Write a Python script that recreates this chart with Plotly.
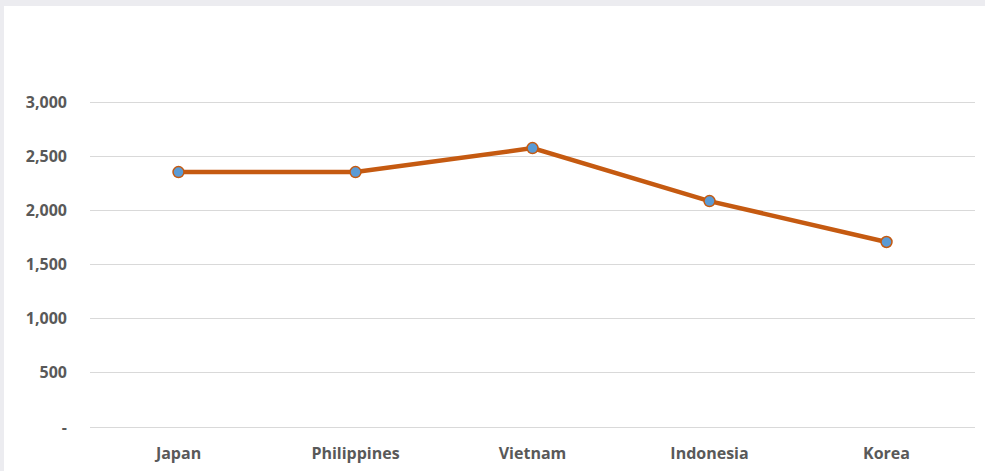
import plotly.graph_objects as go

countries = ["Japan", "Philippines", "Vietnam", "Indonesia", "Korea"]
values = [2354, 2354, 2575, 2086, 1708]
y_tickvals = [0, 500, 1000, 1500, 2000, 2500, 3000]
y_ticktext = ["-", "500", "1,000", "1,500", "2,000", "2,500", "3,000"]

fig = go.Figure()
fig.add_trace(go.Scatter(
    x=countries, y=values, mode="lines+markers",
    line=dict(color="#C55A11", width=4.5),
    marker=dict(size=11, color="#5B9BD5", line=dict(color="#C55A11", width=1.5)),
    showlegend=False, hoverinfo="skip",
))

tf = dict(family="Open Sans", size=16, color="#595959", weight="bold")
fig.update_layout(
    width=985, height=471,
    margin=dict(l=90, r=10, t=101, b=44, autoexpand=False),
    paper_bgcolor="white", plot_bgcolor="white",
    font=dict(family="Open Sans", size=16, color="#595959"),
    xaxis=dict(
        range=[-0.5, len(countries) - 0.5], automargin=False,
        showgrid=False, showline=True, linecolor="#D9D9D9", linewidth=1,
        tickfont=tf, ticks="", ticklabelstandoff=12, fixedrange=True,
    ),
    yaxis=dict(
        range=[0, 3010], tickvals=y_tickvals, ticktext=y_ticktext, automargin=False,
        showgrid=True, gridcolor="#D9D9D9", gridwidth=1, zeroline=False,
        tickfont=tf, ticks="", ticklabelstandoff=22, fixedrange=True,
    ),
    shapes=[
        dict(type="rect", xref="paper", yref="paper", x0=-90/885, x1=1 + 10/885,
             y0=1 + 95/326, y1=1 + 101/326, fillcolor="#ECECF0", line=dict(width=0), layer="below"),
        dict(type="rect", xref="paper", yref="paper", x0=-90/885, x1=-86/885,
             y0=-44/326, y1=1 + 101/326, fillcolor="#ECECF0", line=dict(width=0), layer="below"),
    ],
)

fig.write_html(
    "out.html",
    config={"displayModeBar": False, "staticPlot": True},
    post_script="document.body.style.margin='0';document.body.style.overflow='hidden';",
)
